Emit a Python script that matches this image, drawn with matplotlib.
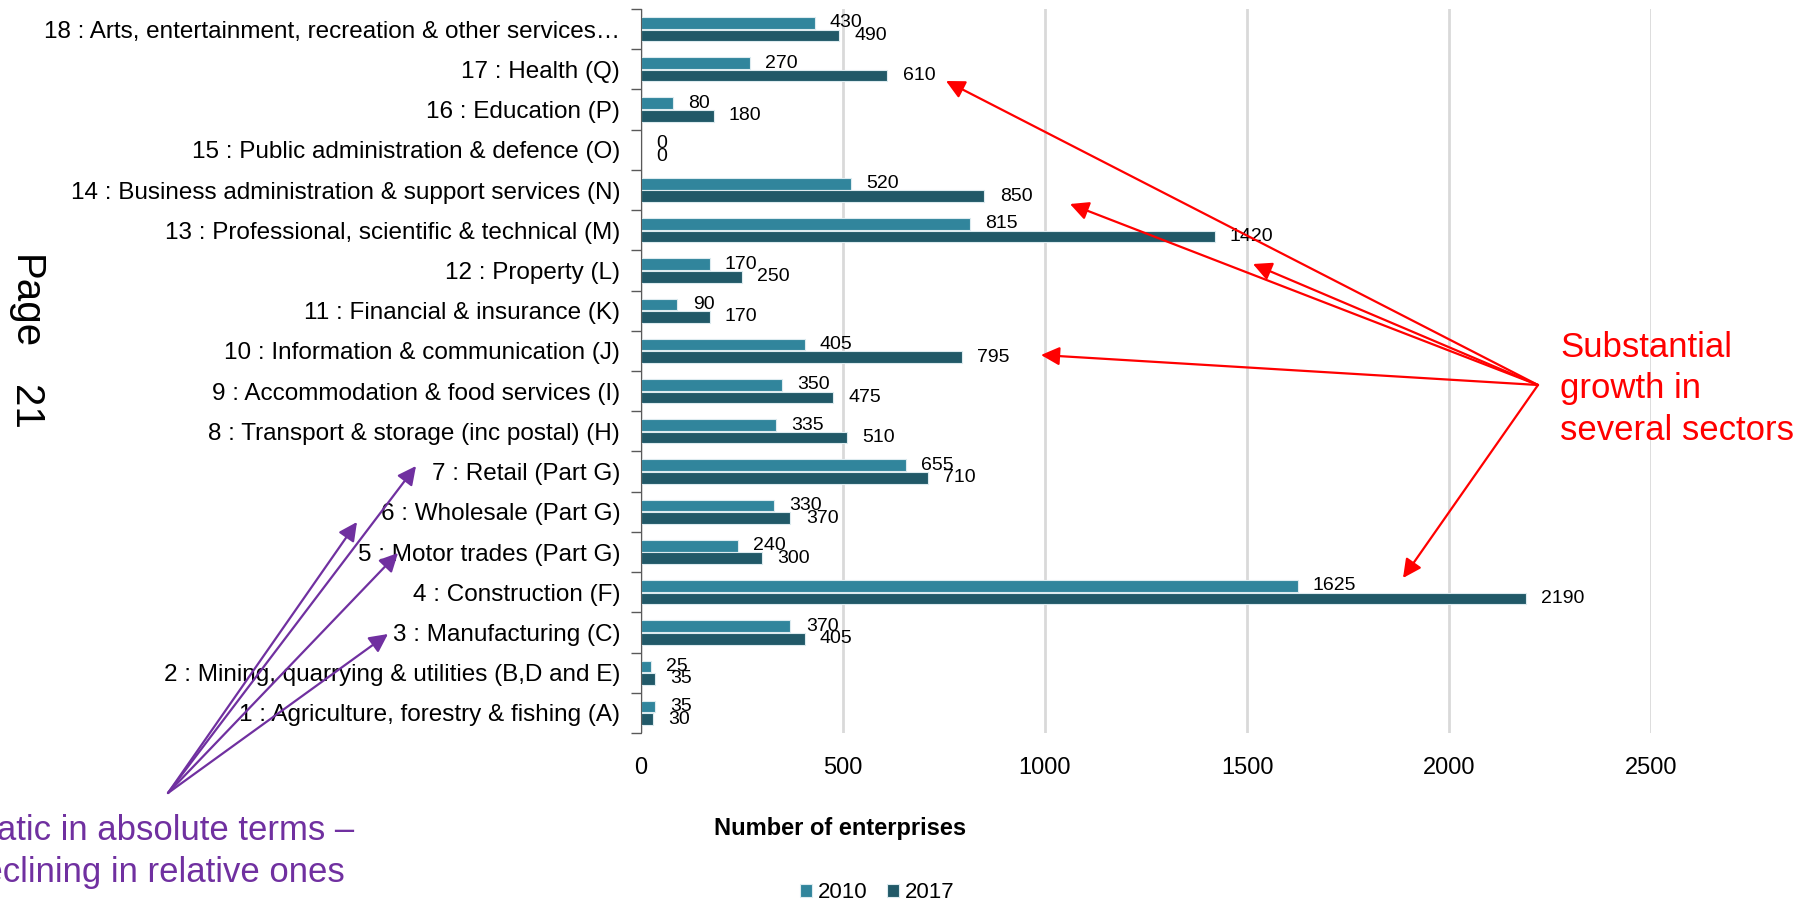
import numpy as np
import matplotlib
matplotlib.use("Agg")
from matplotlib import pyplot as plt
from matplotlib.patches import FancyArrowPatch

plt.rcParams['font.family'] = ['Liberation Sans', 'DejaVu Sans']

# 行业分类（从下往上）
sectors = [
    "1 : Agriculture, forestry & fishing (A)",
    "2 : Mining, quarrying & utilities (B,D and E)",
    "3 : Manufacturing (C)",
    "4 : Construction (F)",
    "5 : Motor trades (Part G)",
    "6 : Wholesale (Part G)",
    "7 : Retail (Part G)",
    "8 : Transport & storage (inc postal) (H)",
    "9 : Accommodation & food services (I)",
    "10 : Information & communication (J)",
    "11 : Financial & insurance (K)",
    "12 : Property (L)",
    "13 : Professional, scientific & technical (M)",
    "14 : Business administration & support services (N)",
    "15 : Public administration & defence (O)",
    "16 : Education (P)",
    "17 : Health (Q)",
    "18 : Arts, entertainment, recreation & other services\u2026",
]
v2010 = [35, 25, 370, 1625, 240, 330, 655, 335, 350, 405, 90, 170, 815, 520, 0, 80, 270, 430]
v2017 = [30, 35, 405, 2190, 300, 370, 710, 510, 475, 795, 170, 250, 1420, 850, 0, 180, 610, 490]
years = ["2010", "2017"]
xticks = [0, 500, 1000, 1500, 2000, 2500]

c2010 = '#31859C'
c2017 = '#215968'
red = '#FF0000'
purple = '#7030A0'

W, H = 1814, 900
fig = plt.figure(figsize=(W / 100, H / 100), dpi=100)
ax = fig.add_axes([641 / W, 1 - 733 / H, (1651 - 641) / W, (733 - 9) / H])

y = np.arange(len(sectors))
bh = 0.29
b1 = ax.barh(y + 0.155, v2010, height=bh, color=c2010, edgecolor='#DDEBEF', linewidth=0.8, label=years[0])
b2 = ax.barh(y - 0.155, v2017, height=bh, color=c2017, edgecolor='#DDEBEF', linewidth=0.8, label=years[1])
ax.bar_label(b1, padding=11, fontsize=14)
ax.bar_label(b2, padding=11, fontsize=14)

ax.set_xlim(0, 2500)
ax.set_ylim(-0.5, len(sectors) - 0.5)
ax.set_xticks(xticks)
ax.set_yticks(y, sectors)
ax.set_yticks(np.arange(-0.5, len(sectors), 1), minor=True)
ax.tick_params(axis='y', which='major', length=0, pad=15, labelsize=17.5)
ax.tick_params(axis='y', which='minor', length=7, width=1, color='#595959')
ax.tick_params(axis='x', length=0, pad=17, labelsize=17)
ax.xaxis.grid(True, color='#D9D9D9', linewidth=2)
ax.set_axisbelow(True)
for s in ['top', 'right', 'bottom']:
    ax.spines[s].set_visible(False)
ax.spines['left'].set_color('#595959')

# 坐标轴标题和图例
fig.text(840 / W, 1 - 828 / H, "Number of enterprises", ha='center', va='center',
         fontsize=17, fontweight='bold')
fig.legend(handles=[b1, b2], labels=years, loc='center', bbox_to_anchor=(877 / W, 1 - 893 / H),
           ncol=2, frameon=False, fontsize=16, handlelength=0.55, handleheight=0.55,
           handletextpad=0.25, columnspacing=0.9)

# 页码
fig.text(25 / W, 1 - 255 / H, "Page", rotation=270, ha='center', va='top', fontsize=29)
fig.text(25 / W, 1 - 430 / H, "21", rotation=270, ha='center', va='bottom', fontsize=29)

# 红色注释：增长较大的行业
fig.text(1560 / W, 1 - 440 / H, "Substantial\ngrowth in\nseveral sectors", ha='left', va='baseline',
         fontsize=25, color=red, linespacing=1.33)
red_start = (1538, 385)
red_tips = [(946, 81), (1070, 204), (1253, 264), (1041, 355), (1403, 578)]
for tx, ty in red_tips:
    fig.add_artist(FancyArrowPatch(
        (red_start[0], H - red_start[1]), (tx, H - ty), transform=None,
        arrowstyle='-|>', mutation_scale=28, color=red, linewidth=1.6,
        shrinkA=0, shrinkB=0))

# 紫色注释：零售批发等
fig.text(-36 / W, 1 - 882 / H, "Static in absolute terms \u2013\ndeclining in relative ones", ha='left',
         va='baseline', fontsize=25, color=purple, linespacing=1.33)
pur_start = (168, 793)
pur_tips = [(416, 466), (357, 522), (398, 553), (388, 634)]
for tx, ty in pur_tips:
    fig.add_artist(FancyArrowPatch(
        (pur_start[0], H - pur_start[1]), (tx, H - ty), transform=None,
        arrowstyle='-|>', mutation_scale=28, color=purple, linewidth=1.6,
        shrinkA=0, shrinkB=0))

fig.savefig("out.png", dpi=100)
